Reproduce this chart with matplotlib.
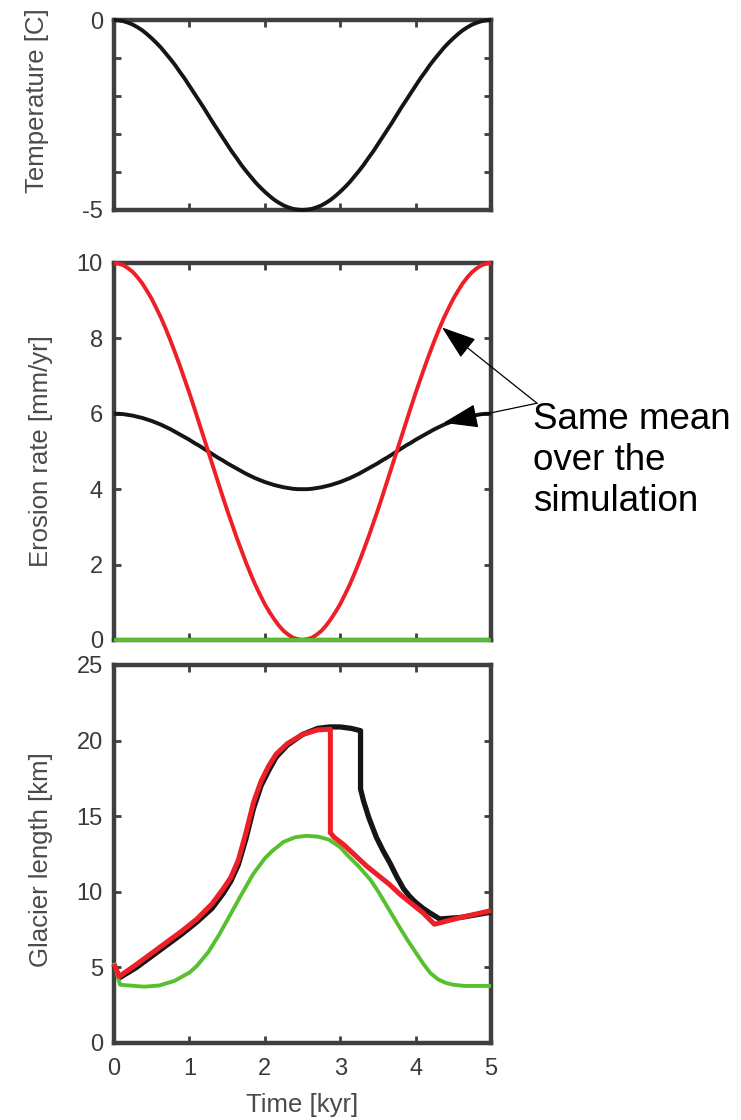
import matplotlib
matplotlib.use("Agg")
import matplotlib.pyplot as plt

plt.rcParams['font.family'] = ['Liberation Sans', 'DejaVu Sans']

# ---- Forcing: temperature over one cycle (kyr) ----
time_cycle = [0.0, 0.0625, 0.125, 0.1875, 0.25, 0.3125, 0.375, 0.4375, 0.5, 0.5625,
              0.625, 0.6875, 0.75, 0.8125, 0.875, 0.9375, 1.0, 1.0625, 1.125, 1.1875,
              1.25, 1.3125, 1.375, 1.4375, 1.5, 1.5625, 1.625, 1.6875, 1.75, 1.8125,
              1.875, 1.9375, 2.0, 2.0625, 2.125, 2.1875, 2.25, 2.3125, 2.375, 2.4375,
              2.5, 2.5625, 2.625, 2.6875, 2.75, 2.8125, 2.875, 2.9375, 3.0, 3.0625,
              3.125, 3.1875, 3.25, 3.3125, 3.375, 3.4375, 3.5, 3.5625, 3.625, 3.6875,
              3.75, 3.8125, 3.875, 3.9375, 4.0, 4.0625, 4.125, 4.1875, 4.25, 4.3125,
              4.375, 4.4375, 4.5, 4.5625, 4.625, 4.6875, 4.75, 4.8125, 4.875, 4.9375,
              5.0]
temperature = [0.0, -0.01, -0.03, -0.07, -0.12, -0.19, -0.27, -0.37, -0.48, -0.60,
               -0.73, -0.88, -1.03, -1.19, -1.37, -1.54, -1.73, -1.92, -2.11, -2.30,
               -2.5, -2.70, -2.89, -3.08, -3.27, -3.46, -3.63, -3.81, -3.97, -4.12,
               -4.27, -4.40, -4.52, -4.63, -4.73, -4.81, -4.88, -4.93, -4.97, -4.99,
               -5.0, -4.99, -4.97, -4.93, -4.88, -4.81, -4.73, -4.63, -4.52, -4.40,
               -4.27, -4.12, -3.97, -3.81, -3.63, -3.46, -3.27, -3.08, -2.89, -2.70,
               -2.5, -2.30, -2.11, -1.92, -1.73, -1.54, -1.37, -1.19, -1.03, -0.88,
               -0.73, -0.60, -0.48, -0.37, -0.27, -0.19, -0.12, -0.07, -0.03, -0.01,
               0.0]

# ---- Erosion rate scenarios [mm/yr] ----
erosion_high = [10.0, 9.98, 9.94, 9.86, 9.76, 9.62, 9.46, 9.26, 9.05, 8.80,
                8.54, 8.25, 7.94, 7.61, 7.27, 6.91, 6.55, 6.17, 5.78, 5.39,
                5.0, 4.61, 4.22, 3.83, 3.45, 3.09, 2.73, 2.39, 2.06, 1.75,
                1.46, 1.20, 0.95, 0.74, 0.55, 0.38, 0.24, 0.14, 0.06, 0.02,
                0.0, 0.02, 0.06, 0.14, 0.24, 0.38, 0.55, 0.74, 0.95, 1.20,
                1.46, 1.75, 2.06, 2.39, 2.73, 3.09, 3.45, 3.83, 4.22, 4.61,
                5.0, 5.39, 5.78, 6.17, 6.55, 6.91, 7.27, 7.61, 7.94, 8.25,
                8.54, 8.80, 9.05, 9.26, 9.46, 9.62, 9.76, 9.86, 9.94, 9.98,
                10.0]
erosion_low = [6.0, 6.0, 5.99, 5.97, 5.95, 5.92, 5.89, 5.85, 5.81, 5.76,
               5.71, 5.65, 5.59, 5.52, 5.45, 5.38, 5.31, 5.23, 5.16, 5.08,
               5.0, 4.92, 4.84, 4.77, 4.69, 4.62, 4.55, 4.48, 4.41, 4.35,
               4.29, 4.24, 4.19, 4.15, 4.11, 4.08, 4.05, 4.03, 4.01, 4.0,
               4.0, 4.0, 4.01, 4.03, 4.05, 4.08, 4.11, 4.15, 4.19, 4.24,
               4.29, 4.35, 4.41, 4.48, 4.55, 4.62, 4.69, 4.77, 4.84, 4.92,
               5.0, 5.08, 5.16, 5.23, 5.31, 5.38, 5.45, 5.52, 5.59, 5.65,
               5.71, 5.76, 5.81, 5.85, 5.89, 5.92, 5.95, 5.97, 5.99, 6.0,
               6.0]
erosion_none = [0.0] * len(time_cycle)

# ---- Glacier length responses [km] ----
t_len_low = [0.0, 0.07, 0.3, 0.6, 0.9, 1.1, 1.3, 1.45, 1.55, 1.65, 1.75, 1.85, 1.95,
             2.05, 2.15, 2.3, 2.5, 2.7, 2.86, 3.0, 3.15, 3.27, 3.27, 3.31, 3.38, 3.48,
             3.57, 3.66, 3.75, 3.84, 3.92, 4.0, 4.1, 4.19, 4.32, 4.6, 5.0]
len_low = [5.2, 4.3, 5.0, 6.1, 7.2, 8.0, 8.9, 9.9, 10.7, 11.8, 13.5, 15.5, 17.0,
           18.0, 18.9, 19.7, 20.4, 20.8, 20.9, 20.9, 20.8, 20.65, 16.8, 16.0, 14.9, 13.6,
           12.7, 11.9, 11.0, 10.2, 9.7, 9.3, 8.9, 8.6, 8.2, 8.3, 8.65]

t_len_high = [0.0, 0.07, 0.3, 0.6, 0.9, 1.1, 1.3, 1.45, 1.55, 1.65, 1.75, 1.85, 1.95,
              2.05, 2.15, 2.3, 2.5, 2.7, 2.87, 2.87, 2.92, 3.05, 3.2, 3.35, 3.5, 3.65,
              3.8, 3.95, 4.1, 4.2, 4.25, 4.6, 5.0]
len_high = [5.2, 4.4, 5.2, 6.3, 7.4, 8.2, 9.2, 10.2, 10.95, 12.1, 13.9, 15.9, 17.3,
            18.3, 19.1, 19.8, 20.4, 20.7, 20.75, 13.9, 13.6, 13.1, 12.4, 11.7, 11.1, 10.5,
            9.8, 9.2, 8.6, 8.1, 7.85, 8.3, 8.75]

t_len_none = [0.0, 0.08, 0.4, 0.6, 0.8, 1.0, 1.1, 1.25, 1.4, 1.55, 1.7, 1.85, 2.0,
              2.1, 2.25, 2.4, 2.55, 2.7, 2.85, 3.0, 3.1, 3.25, 3.4, 3.5, 3.65,
              3.8, 3.9, 4.0, 4.1, 4.2, 4.3, 4.4, 4.5, 4.65, 5.0]
len_none = [5.3, 3.85, 3.72, 3.8, 4.1, 4.65, 5.1, 6.0, 7.2, 8.55, 9.9, 11.2, 12.2,
            12.7, 13.3, 13.6, 13.7, 13.65, 13.45, 12.95, 12.4, 11.65, 10.8, 10.05, 8.8,
            7.55, 6.75, 6.0, 5.25, 4.6, 4.2, 3.97, 3.85, 3.77, 3.77]

RED = '#ee1f26'
GREEN = '#56c02f'
BLACK = '#151515'
FRAME = '#3f3f3f'
TICKTXT = '#3a3a3a'
LABELTXT = '#4a4a4a'

fig = plt.figure(figsize=(7.41, 11.2), dpi=100)
ax_t = fig.add_axes([0.1538, 0.8125, 0.5088, 0.1696])
ax_e = fig.add_axes([0.1538, 0.4286, 0.5088, 0.3366])
ax_l = fig.add_axes([0.1538, 0.0688, 0.5088, 0.3375])


def style(ax):
    ax.set_xlim(0, 5)
    for sp in ax.spines.values():
        sp.set_linewidth(3.2)
        sp.set_color(FRAME)
    ax.tick_params(direction='in', length=5, width=2, color=FRAME,
                   top=True, right=True, labelsize=17, labelcolor=TICKTXT, pad=8)
    ax.set_xticks([0, 1, 2, 3, 4, 5])


line_kw = dict(clip_on=False, zorder=3, solid_capstyle='butt')

# Temperature
style(ax_t)
ax_t.plot(time_cycle, temperature, color=BLACK, lw=2.8, **line_kw)
ax_t.set_ylim(-5, 0)
ax_t.set_yticks([-5, -4, -3, -2, -1, 0])
ax_t.set_yticklabels(['-5', '', '', '', '', '0'])
ax_t.set_xticklabels([])
ax_t.set_ylabel('Temperature [C]', fontsize=18.5, color=LABELTXT, va='center')
ax_t.yaxis.set_label_coords(-0.204, 0.574)

# Erosion rate
style(ax_e)
ax_e.plot(time_cycle, erosion_low, color=BLACK, lw=2.8, **line_kw)
ax_e.plot(time_cycle, erosion_high, color=RED, lw=2.8, **line_kw)
ax_e.plot(time_cycle, erosion_none, color=GREEN, lw=2.8, **line_kw)
ax_e.set_ylim(0, 10)
ax_e.set_yticks([0, 2, 4, 6, 8, 10])
ax_e.set_xticklabels([])
ax_e.set_ylabel('Erosion rate [mm/yr]', fontsize=18.5, color=LABELTXT, va='center')
ax_e.yaxis.set_label_coords(-0.194, 0.5)

arrow_kw = dict(arrowstyle='-|>,head_length=1.1,head_width=0.38', mutation_scale=20,
                lw=0.9, color='black', shrinkA=0, shrinkB=0)
ax_e.annotate('', xy=(4.35, 8.29), xytext=(5.61, 6.28), arrowprops=arrow_kw,
              annotation_clip=False, zorder=5)
ax_e.annotate('', xy=(4.37, 5.76), xytext=(5.61, 6.28), arrowprops=arrow_kw,
              annotation_clip=False, zorder=5)
fig.text(533 / 741, 1 - 402 / 1120, 'Same mean\nover the\nsimulation',
         fontsize=26.5, color='black', ha='left', va='top', linespacing=1.22)

# Glacier length
style(ax_l)
ax_l.plot(t_len_low, len_low, color=BLACK, lw=3.8, **line_kw)
ax_l.plot(t_len_none, len_none, color=GREEN, lw=2.8, **line_kw)
ax_l.plot(t_len_high, len_high, color=RED, lw=3.6, **line_kw)
ax_l.set_ylim(0, 25)
ax_l.set_yticks([0, 5, 10, 15, 20, 25])
ax_l.tick_params(axis='x', pad=11)
ax_l.set_xlabel('Time [kyr]', fontsize=18.5, color=LABELTXT, labelpad=9)
ax_l.set_ylabel('Glacier length [km]', fontsize=18.5, color=LABELTXT, va='center')
ax_l.yaxis.set_label_coords(-0.194, 0.484)

fig.savefig('out.png', dpi=100)
